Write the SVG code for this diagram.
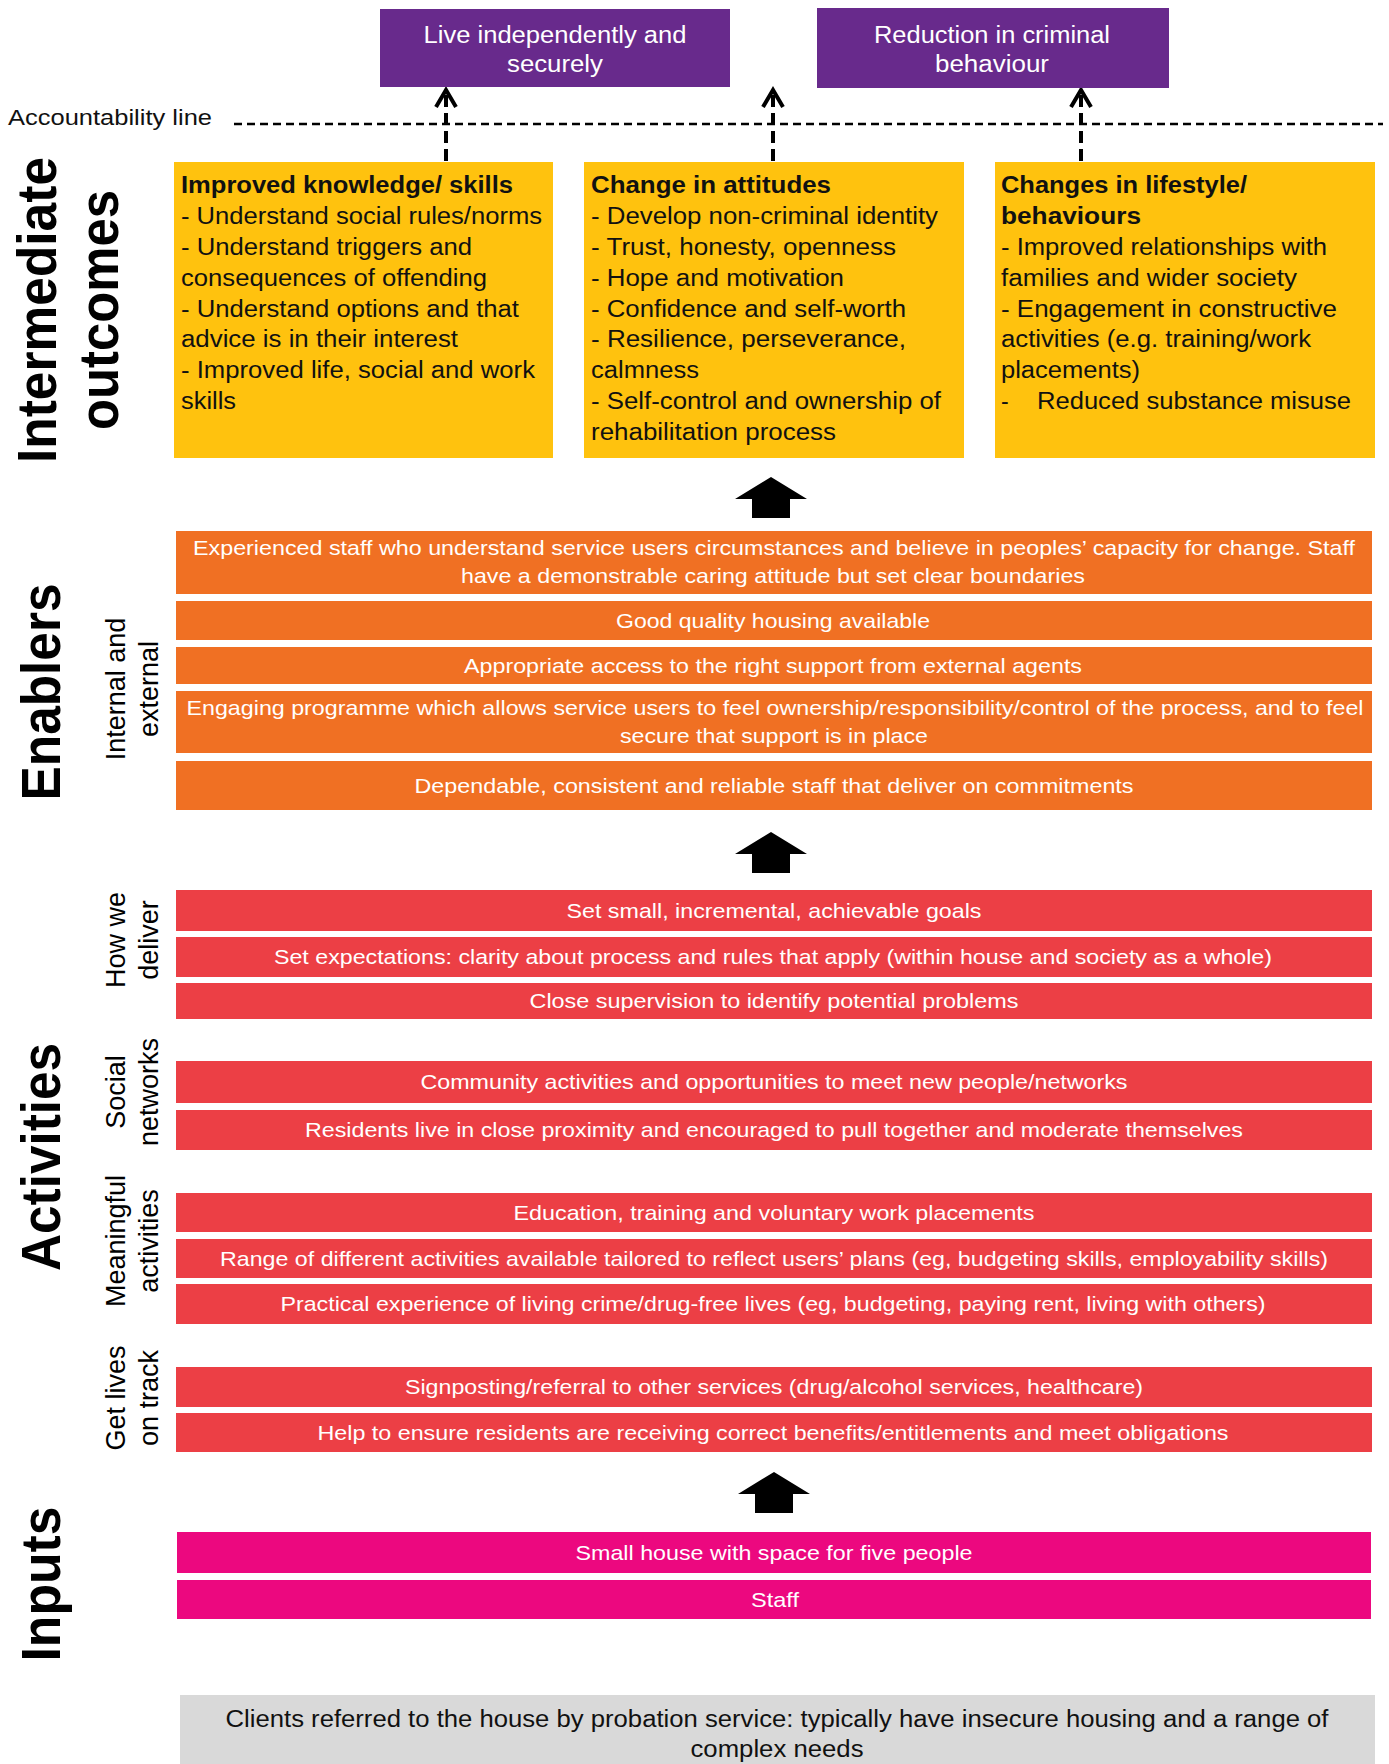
<svg xmlns="http://www.w3.org/2000/svg" width="1389" height="1764" viewBox="0 0 1389 1764">
<defs>
<style>
text{font-family:"Liberation Sans",Arial,sans-serif;}
.purple{fill:#682A8C;}
.yellow{fill:#FFC20E;}
.orange{fill:#F07023;}
.red{fill:#EC3F45;}
.mag{fill:#EC087F;}
.grey{fill:#D9D9D9;}
.wt{fill:#fff;font-size:21px;text-anchor:middle;}
.pt{fill:#fff;font-size:23px;text-anchor:middle;}
.yt{fill:#111;font-size:23px;}
.yb{fill:#111;font-size:23px;font-weight:bold;}
.gt{fill:#111;font-size:23px;text-anchor:middle;}
.big{fill:#000;font-size:51px;font-weight:bold;text-anchor:middle;}
.side{fill:#000;font-size:27px;text-anchor:middle;}
.dash{stroke:#000;stroke-width:4;fill:none;stroke-dasharray:12 6;}
</style>
<marker id="chev" markerUnits="userSpaceOnUse" viewBox="0 0 26 26" markerWidth="26" markerHeight="26" refX="21" refY="13" orient="auto">
<polyline points="4,3 21,13 4,23" fill="none" stroke="#000" stroke-width="4"/>
</marker>
<path id="blk" d="M0,0 L36,22 L19,22 L19,41 L-19,41 L-19,22 L-36,22 Z" fill="#000"/>
</defs>
<rect width="1389" height="1764" fill="#fff"/>

<g id="side-labels">
<text class="big" transform="translate(56,310) scale(1.1,1) rotate(-90)" textLength="306" lengthAdjust="spacingAndGlyphs">Intermediate</text>
<text class="big" transform="translate(118,310) scale(1.1,1) rotate(-90)" textLength="240" lengthAdjust="spacingAndGlyphs">outcomes</text>
<text class="big" transform="translate(60,692) scale(1.1,1) rotate(-90)" textLength="217" lengthAdjust="spacingAndGlyphs">Enablers</text>
<text class="big" transform="translate(60,1157) scale(1.1,1) rotate(-90)" textLength="228" lengthAdjust="spacingAndGlyphs">Activities</text>
<text class="big" transform="translate(60,1584) scale(1.1,1) rotate(-90)" textLength="155" lengthAdjust="spacingAndGlyphs">Inputs</text>
<text class="side" transform="translate(125,689) scale(1.05,1) rotate(-90)">Internal and</text>
<text class="side" transform="translate(158,689) scale(1.05,1) rotate(-90)">external</text>
<text class="side" transform="translate(125,940) scale(1.05,1) rotate(-90)">How we</text>
<text class="side" transform="translate(158,940) scale(1.05,1) rotate(-90)">deliver</text>
<text class="side" transform="translate(125,1092) scale(1.05,1) rotate(-90)">Social</text>
<text class="side" transform="translate(158,1092) scale(1.05,1) rotate(-90)">networks</text>
<text class="side" transform="translate(125,1241) scale(1.05,1) rotate(-90)">Meaningful</text>
<text class="side" transform="translate(158,1241) scale(1.05,1) rotate(-90)">activities</text>
<text class="side" transform="translate(125,1398) scale(1.05,1) rotate(-90)">Get lives</text>
<text class="side" transform="translate(158,1398) scale(1.05,1) rotate(-90)">on track</text>
</g>

<g id="connectors">
<line x1="234" y1="124" x2="1383" y2="124" stroke="#000" stroke-width="2.5" stroke-dasharray="8 5"/>
<text x="8" y="125" font-size="22" fill="#111" textLength="204" lengthAdjust="spacingAndGlyphs">Accountability line</text>
<line class="dash" x1="446" y1="161" x2="446" y2="90" marker-end="url(#chev)"/>
<line class="dash" x1="773" y1="161" x2="773" y2="90" marker-end="url(#chev)"/>
<line class="dash" x1="1081" y1="161" x2="1081" y2="90" marker-end="url(#chev)"/>
<use href="#blk" x="771" y="477"/>
<use href="#blk" x="771" y="832"/>
<use href="#blk" x="774" y="1472"/>
</g>

<g id="goal-live">
<rect class="purple" x="380" y="9" width="350" height="78"/>
<text class="pt" x="555" y="43" textLength="263" lengthAdjust="spacingAndGlyphs">Live independently and</text>
<text class="pt" x="555" y="72" textLength="96" lengthAdjust="spacingAndGlyphs">securely</text>
</g>
<g id="goal-crime">
<rect class="purple" x="817" y="8" width="352" height="80"/>
<text class="pt" x="992" y="43" textLength="236" lengthAdjust="spacingAndGlyphs">Reduction in criminal</text>
<text class="pt" x="992" y="72" textLength="114" lengthAdjust="spacingAndGlyphs">behaviour</text>
</g>

<g id="outcome-knowledge">
<rect class="yellow" x="174" y="162" width="379" height="296"/>
<text class="yb" x="181" y="193" textLength="332" lengthAdjust="spacingAndGlyphs">Improved knowledge/ skills</text>
<text class="yt" x="181" y="224" textLength="361" lengthAdjust="spacingAndGlyphs">- Understand social rules/norms</text>
<text class="yt" x="181" y="255" textLength="291" lengthAdjust="spacingAndGlyphs">- Understand triggers and</text>
<text class="yt" x="181" y="286" textLength="306" lengthAdjust="spacingAndGlyphs">consequences of offending</text>
<text class="yt" x="181" y="317" textLength="338" lengthAdjust="spacingAndGlyphs">- Understand options and that</text>
<text class="yt" x="181" y="347" textLength="277" lengthAdjust="spacingAndGlyphs">advice is in their interest</text>
<text class="yt" x="181" y="378" textLength="354" lengthAdjust="spacingAndGlyphs">- Improved life, social and work</text>
<text class="yt" x="181" y="409" textLength="55" lengthAdjust="spacingAndGlyphs">skills</text>
</g>
<g id="outcome-attitudes">
<rect class="yellow" x="584" y="162" width="380" height="296"/>
<text class="yb" x="591" y="193" textLength="240" lengthAdjust="spacingAndGlyphs">Change in attitudes</text>
<text class="yt" x="591" y="224" textLength="347" lengthAdjust="spacingAndGlyphs">- Develop non-criminal identity</text>
<text class="yt" x="591" y="255" textLength="305" lengthAdjust="spacingAndGlyphs">- Trust, honesty, openness</text>
<text class="yt" x="591" y="286" textLength="253" lengthAdjust="spacingAndGlyphs">- Hope and motivation</text>
<text class="yt" x="591" y="317" textLength="315" lengthAdjust="spacingAndGlyphs">- Confidence and self-worth</text>
<text class="yt" x="591" y="347" textLength="315" lengthAdjust="spacingAndGlyphs">- Resilience, perseverance,</text>
<text class="yt" x="591" y="378" textLength="108" lengthAdjust="spacingAndGlyphs">calmness</text>
<text class="yt" x="591" y="409" textLength="350" lengthAdjust="spacingAndGlyphs">- Self-control and ownership of</text>
<text class="yt" x="591" y="440" textLength="245" lengthAdjust="spacingAndGlyphs">rehabilitation process</text>
</g>
<g id="outcome-lifestyle">
<rect class="yellow" x="995" y="162" width="380" height="296"/>
<text class="yb" x="1001" y="193" textLength="246" lengthAdjust="spacingAndGlyphs">Changes in lifestyle/</text>
<text class="yb" x="1001" y="224" textLength="140" lengthAdjust="spacingAndGlyphs">behaviours</text>
<text class="yt" x="1001" y="255" textLength="326" lengthAdjust="spacingAndGlyphs">- Improved relationships with</text>
<text class="yt" x="1001" y="286" textLength="296" lengthAdjust="spacingAndGlyphs">families and wider society</text>
<text class="yt" x="1001" y="317" textLength="336" lengthAdjust="spacingAndGlyphs">- Engagement in constructive</text>
<text class="yt" x="1001" y="347" textLength="310" lengthAdjust="spacingAndGlyphs">activities (e.g. training/work</text>
<text class="yt" x="1001" y="378" textLength="139" lengthAdjust="spacingAndGlyphs">placements)</text>
<text class="yt" x="1001" y="409">-</text>
<text class="yt" x="1037" y="409" textLength="314" lengthAdjust="spacingAndGlyphs">Reduced substance misuse</text>
</g>

<g id="enabler-staff">
<rect class="orange" x="176" y="531" width="1196" height="63"/>
<text class="wt" x="774" y="555" textLength="1162" lengthAdjust="spacingAndGlyphs">Experienced staff who understand service users circumstances and believe in peoples’ capacity for change. Staff</text>
<text class="wt" x="773" y="583" textLength="624" lengthAdjust="spacingAndGlyphs">have a demonstrable caring attitude but set clear boundaries</text>
</g>
<g id="enabler-housing">
<rect class="orange" x="176" y="601" width="1196" height="39"/>
<text class="wt" x="773" y="628" textLength="314" lengthAdjust="spacingAndGlyphs">Good quality housing available</text>
</g>
<g id="enabler-access">
<rect class="orange" x="176" y="647" width="1196" height="37"/>
<text class="wt" x="773" y="673" textLength="618" lengthAdjust="spacingAndGlyphs">Appropriate access to the right support from external agents</text>
</g>
<g id="enabler-programme">
<rect class="orange" x="176" y="691" width="1196" height="62"/>
<text class="wt" x="775" y="715" textLength="1177" lengthAdjust="spacingAndGlyphs">Engaging programme which allows service users to feel ownership/responsibility/control of the process, and to feel</text>
<text class="wt" x="774" y="743" textLength="308" lengthAdjust="spacingAndGlyphs">secure that support is in place</text>
</g>
<g id="enabler-reliable">
<rect class="orange" x="176" y="761" width="1196" height="49"/>
<text class="wt" x="774" y="793" textLength="719" lengthAdjust="spacingAndGlyphs">Dependable, consistent and reliable staff that deliver on commitments</text>
</g>

<g id="act-goals">
<rect class="red" x="176" y="890" width="1196" height="41"/>
<text class="wt" x="774" y="918" textLength="415" lengthAdjust="spacingAndGlyphs">Set small, incremental, achievable goals</text>
</g>
<g id="act-expectations">
<rect class="red" x="176" y="937" width="1196" height="40"/>
<text class="wt" x="773" y="964" textLength="998" lengthAdjust="spacingAndGlyphs">Set expectations: clarity about process and rules that apply (within house and society as a whole)</text>
</g>
<g id="act-supervision">
<rect class="red" x="176" y="983" width="1196" height="36"/>
<text class="wt" x="774" y="1008" textLength="489" lengthAdjust="spacingAndGlyphs">Close supervision to identify potential problems</text>
</g>
<g id="act-community">
<rect class="red" x="176" y="1061" width="1196" height="42"/>
<text class="wt" x="774" y="1089" textLength="707" lengthAdjust="spacingAndGlyphs">Community activities and opportunities to meet new people/networks</text>
</g>
<g id="act-residents">
<rect class="red" x="176" y="1110" width="1196" height="40"/>
<text class="wt" x="774" y="1137" textLength="938" lengthAdjust="spacingAndGlyphs">Residents live in close proximity and encouraged to pull together and moderate themselves</text>
</g>
<g id="act-education">
<rect class="red" x="176" y="1193" width="1196" height="39"/>
<text class="wt" x="774" y="1220" textLength="521" lengthAdjust="spacingAndGlyphs">Education, training and voluntary work placements</text>
</g>
<g id="act-range">
<rect class="red" x="176" y="1239" width="1196" height="39"/>
<text class="wt" x="774" y="1266" textLength="1108" lengthAdjust="spacingAndGlyphs">Range of different activities available tailored to reflect users’ plans (eg, budgeting skills, employability skills)</text>
</g>
<g id="act-practical">
<rect class="red" x="176" y="1284" width="1196" height="40"/>
<text class="wt" x="773" y="1311" textLength="985" lengthAdjust="spacingAndGlyphs">Practical experience of living crime/drug-free lives (eg, budgeting, paying rent, living with others)</text>
</g>
<g id="act-signposting">
<rect class="red" x="176" y="1367" width="1196" height="40"/>
<text class="wt" x="774" y="1394" textLength="738" lengthAdjust="spacingAndGlyphs">Signposting/referral to other services (drug/alcohol services, healthcare)</text>
</g>
<g id="act-benefits">
<rect class="red" x="176" y="1413" width="1196" height="39"/>
<text class="wt" x="773" y="1440" textLength="911" lengthAdjust="spacingAndGlyphs">Help to ensure residents are receiving correct benefits/entitlements and meet obligations</text>
</g>

<g id="input-house">
<rect class="mag" x="177" y="1532" width="1194" height="41"/>
<text class="wt" x="774" y="1560" textLength="397" lengthAdjust="spacingAndGlyphs">Small house with space for five people</text>
</g>
<g id="input-staff">
<rect class="mag" x="177" y="1580" width="1194" height="39"/>
<text class="wt" x="775" y="1607" textLength="48" lengthAdjust="spacingAndGlyphs">Staff</text>
</g>

<g id="clients">
<rect class="grey" x="180" y="1695" width="1195" height="69"/>
<text class="gt" x="777" y="1727" textLength="1103" lengthAdjust="spacingAndGlyphs">Clients referred to the house by probation service: typically have insecure housing and a range of</text>
<text class="gt" x="777" y="1757" textLength="173" lengthAdjust="spacingAndGlyphs">complex needs</text>
</g>
</svg>
